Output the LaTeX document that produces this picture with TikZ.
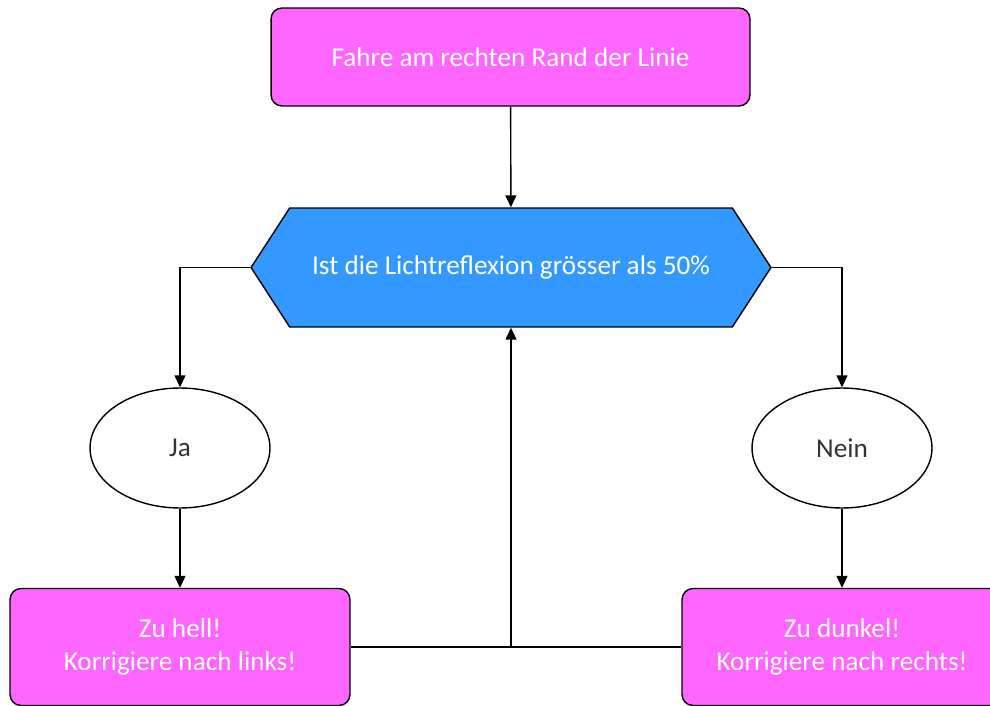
\documentclass[tikz,border=0pt]{standalone}
\usepackage{fontspec}
\setmainfont{Carlito}
\usepackage{xcolor}
\usetikzlibrary{arrows.meta, positioning, shapes.geometric, shapes.symbols}

\definecolor{pinkbox}{HTML}{FF66FF}
\definecolor{bluebox}{HTML}{3399FF}
\definecolor{textgray}{HTML}{333333}

\begin{document}
\begin{tikzpicture}[
      x=0.02cm, y=-0.02cm,
      every node/.style={font=\fontsize{15.5}{18.5}\selectfont, align=center},
      action/.style={rectangle, rounded corners=0.22cm, draw, line width=0.8pt, fill=pinkbox, text=white},
      question/.style={signal, signal to=west and east, signal pointer angle=114, draw, line width=0.8pt, fill=bluebox, text=white, minimum width=10.4cm, minimum height=2.38cm},
      answer/.style={ellipse, draw, line width=0.8pt, fill=white, text=textgray, minimum width=3.6cm, minimum height=2.4cm},
      flow/.style={line width=0.8pt, -{Triangle[length=2.4mm, width=2.2mm]}}
    ]
      \useasboundingbox (0,0) rectangle (990,706);

      \node[action, minimum width=9.58cm, minimum height=1.96cm] (start) at (510.5,57) {Fahre am rechten Rand der Linie};
      \node[question] (check) at (511,267.5) {Ist die Lichtreflexion grösser als 50\%};
      \node[answer] (ja) at (180,448) {Ja};
      \node[answer] (nein) at (842,448) {Nein};
      \node[action, minimum width=6.8cm, minimum height=2.34cm] (hell) at (180,647) {Zu hell!\\Korrigiere nach links!};
      \node[action, minimum width=6.4cm, minimum height=2.34cm] (dunkel) at (842,647) {Zu dunkel!\\Korrigiere nach rechts!};

      \coordinate (merge) at (check.south |- hell.east);

      \draw[flow] (start) -- (check);
      \draw[flow] (check.west) -| (ja.north);
      \draw[flow] (check.east) -| (nein.north);
      \draw[flow] (ja) -- (hell);
      \draw[flow] (nein) -- (dunkel);
      \draw[line width=0.8pt] (hell.east) -- (merge) -- (dunkel.west);
      \draw[flow] (merge) -- (check.south);
    \end{tikzpicture}
\end{document}
